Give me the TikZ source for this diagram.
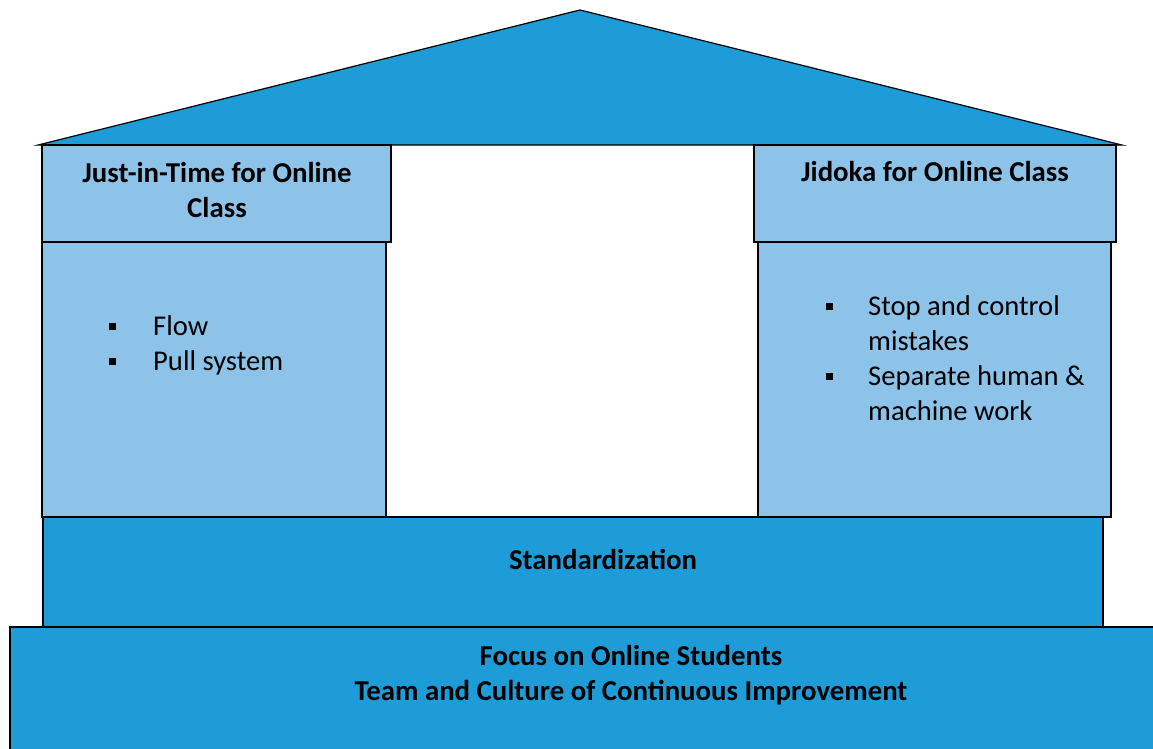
\documentclass[tikz,border=0pt]{standalone}
\usepackage{fontspec}
\setmainfont{Carlito}
\definecolor{roofblue}{HTML}{1D9CD8}
\definecolor{pillarblue}{HTML}{8DC3E8}
\tikzset{
  block/.style={draw=black, line width=1.2pt},
  heading/.style={font=\fontsize{28.8}{35}\selectfont\bfseries, align=center, anchor=base, inner sep=0pt},
  item/.style={font=\fontsize{28.6}{35}\selectfont, align=left, anchor=base west, inner sep=0pt},
  sqbullet/.style={fill=black, minimum size=7pt, inner sep=0pt},
}

\begin{document}
\begin{tikzpicture}[x=1pt,y=-1pt]
    \useasboundingbox (0,0) rectangle (1153,749);
    % base of the house
    \draw[block, fill=roofblue] (10,627) rectangle (1180,780);
    \draw[block, fill=roofblue] (43,517) rectangle (1103,627);
    % pillars
    \draw[block, fill=pillarblue] (42,242) rectangle (386,517);
    \draw[block, fill=pillarblue] (758,242) rectangle (1111,517);
    % roof
    \draw[block, fill=roofblue] (38,145) -- (580,10) -- (1122,145) -- cycle;
    \draw[block, fill=pillarblue] (42,145) rectangle (391,242);
    \draw[block, fill=pillarblue] (754,145) rectangle (1116,242);
    % texts (base = last line)
    \node[heading] (jit) at (217,217) {Just-in-Time for Online\\Class};
    \node[heading] (jidoka) at (935,181) {Jidoka for Online Class};
    \node[sqbullet] (b1) at (112.5,326) {};
    \node[item] (flow) at (153,335) {Flow};
    \node[sqbullet] (b2) at (112.5,361) {};
    \node[item] (pull) at (153,370) {Pull system};
    \node[sqbullet] (b3) at (829.5,306.5) {};
    \node[item] (stop) at (868,350) {Stop and control\\mistakes};
    \node[sqbullet] (b4) at (829.5,376) {};
    \node[item] (sep) at (868,420) {Separate human \&\\machine work};
    \node[heading] (std) at (603,569) {Standardization};
    \node[heading] (focus) at (631,700) {Focus on Online Students\\Team and Culture of Continuous Improvement};
\end{tikzpicture}
\end{document}
